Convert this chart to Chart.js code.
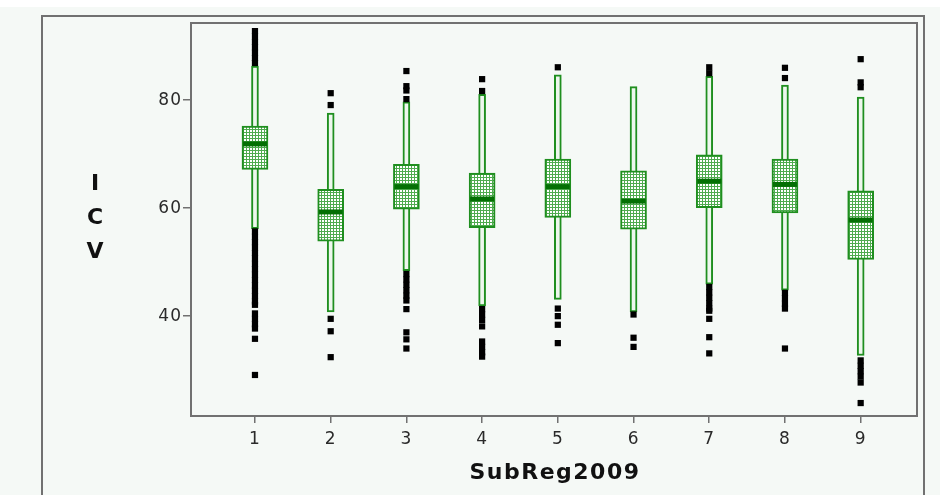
<!DOCTYPE html>
<html>
<head>
<meta charset="utf-8">
<title>ICV by SubReg2009</title>
<script src="https://cdn.jsdelivr.net/npm/chart.js@4.4.1/dist/chart.umd.min.js"></script>
<style>
    html, body { margin: 0; padding: 0; background: #ffffff; }
    #wrap { width: 940px; height: 495px; }
</style>
</head>
<body>
<div id="wrap"><canvas id="icv-chart" width="940" height="495"></canvas></div>
<script>
// groups on the x axis
const categories = [1, 2, 3, 4, 5, 6, 7, 8, 9];
const xTicks = [1, 2, 3, 4, 5, 6, 7, 8, 9];
const yTicks = [40, 60, 80];

// box summary
const whiskerLow  = [56.2, 40.8, 48.4, 41.9, 43.1, 40.8, 45.9, 44.8, 32.7];
const whiskerHigh = [86.3, 77.6, 79.7, 81.1, 84.7, 82.5, 84.4, 82.8, 80.6];
const q1          = [67.2, 53.9, 59.8, 56.4, 58.3, 56.1, 60.1, 59.1, 50.5];
const q3          = [75.2, 63.5, 68.1, 66.5, 69.1, 66.9, 69.9, 69.1, 63.2];
const medians     = [71.9, 59.3, 64.0, 61.7, 64.0, 61.3, 65.0, 64.4, 57.8];

// outliers per group (same order as categories)
const outliers = [
    [92.8, 91.8, 90.8, 89.8, 88.8, 87.8, 86.9,
     55.7, 54.7, 53.7, 52.7, 51.7, 50.7, 49.7, 48.7, 47.7, 46.7, 45.7, 44.7, 43.7, 42.7, 42.1,
     40.5, 39.5, 38.5, 37.7, 35.8, 29.1],
    [81.3, 79.1, 39.5, 37.2, 32.4],
    [85.4, 82.6, 81.8, 80.2, 47.8, 46.8, 45.8, 44.8, 43.8, 42.9, 41.3, 37.0, 35.7, 34.0],
    [83.9, 81.7, 41.3, 40.3, 39.3, 38.1, 35.3, 34.3, 33.3, 32.5],
    [86.1, 41.4, 40.0, 38.4, 35.0],
    [40.3, 36.0, 34.3],
    [86.1, 85.0, 45.4, 44.4, 43.4, 42.4, 41.4, 41.0, 39.5, 36.1, 33.1],
    [86.0, 84.1, 44.3, 43.3, 42.3, 41.4, 34.0],
    [87.6, 83.3, 82.4, 31.8, 30.8, 29.8, 28.8, 27.7, 23.9]
];

const GREEN = '#1f8f1f';
const DARK_GREEN = '#047004';
const FRAME = '#717171';

// dotted fill for the boxes
function dotPattern() {
    let c = document.createElement('canvas');
    c.width = 3;
    c.height = 3;
    let g = c.getContext('2d');
    g.fillStyle = '#4fab4f';
    g.fillRect(0, 0, 3, 3);
    g.fillStyle = '#ffffff';
    g.fillRect(1, 1, 2, 2);
    return g.createPattern(c, 'repeat');
}

let whiskerData = categories.map((c, i) => ({x: c, y: [whiskerLow[i], whiskerHigh[i]]}));
let boxData = categories.map((c, i) => ({x: c, y: [q1[i], q3[i]]}));
let medianData = categories.map((c, i) => ({x: c, y: medians[i]}));
let outlierData = [];
categories.forEach(function (c, i) {
    outliers[i].forEach(function (v) {
        outlierData.push({x: c, y: v});
    });
});

const framePlugin = {
    id: 'frame',
    beforeDraw(chart) {
        let ctx = chart.ctx;
        ctx.save();
        ctx.fillStyle = '#f5f9f6';
        ctx.fillRect(0, 0, chart.width, chart.height);
        ctx.fillStyle = '#ffffff';
        ctx.fillRect(0, 0, chart.width, 7);
        // outer panel border
        ctx.strokeStyle = FRAME;
        ctx.lineWidth = 2;
        ctx.beginPath();
        ctx.moveTo(42, chart.height + 2);
        ctx.lineTo(42, 16);
        ctx.lineTo(924, 16);
        ctx.lineTo(924, chart.height + 2);
        ctx.stroke();
        ctx.restore();
        ctx.letterSpacing = '1px';
    },
    beforeDatasetsDraw(chart) {
        let ctx = chart.ctx;
        let a = chart.chartArea;
        ctx.save();
        ctx.strokeStyle = FRAME;
        ctx.lineWidth = 2;
        ctx.strokeRect(a.left, a.top, a.right - a.left, a.bottom - a.top);
        ctx.restore();
    },
    afterDraw(chart) {
        let ctx = chart.ctx;
        let a = chart.chartArea;
        ctx.save();
        ctx.fillStyle = '#111111';
        ctx.textAlign = 'center';
        ctx.textBaseline = 'middle';
        ctx.letterSpacing = '0px';
        ctx.font = 'bold 22px "DejaVu Sans"';
        ['I', 'C', 'V'].forEach(function (ch, i) {
            ctx.fillText(ch, 95, 184 + i * 34);
        });
        ctx.letterSpacing = '1.5px';
        ctx.font = 'bold 22px "DejaVu Sans"';
        ctx.textBaseline = 'alphabetic';
        ctx.fillText('SubReg2009', (a.left + a.right) / 2 + 1, 479);
        ctx.restore();
    }
};

let ctx = document.getElementById('icv-chart').getContext('2d');
let chart = new Chart(ctx, {
    type: 'bar',
    data: {
        datasets: [{
            // whiskers
            type: 'bar',
            data: whiskerData,
            grouped: false,
            barThickness: 7,
            backgroundColor: '#eef7ee',
            borderColor: GREEN,
            borderWidth: 2,
            borderSkipped: false,
            order: 4
        }, {
            // boxes
            type: 'bar',
            data: boxData,
            grouped: false,
            barThickness: 26,
            backgroundColor: dotPattern(),
            borderColor: GREEN,
            borderWidth: 2,
            borderSkipped: false,
            order: 3
        }, {
            // medians
            type: 'scatter',
            data: medianData,
            pointStyle: 'line',
            pointRadius: 12,
            pointHoverRadius: 12,
            borderColor: DARK_GREEN,
            pointBorderColor: DARK_GREEN,
            pointBorderWidth: 5,
            order: 2
        }, {
            // outliers
            type: 'scatter',
            data: outlierData,
            pointStyle: 'rect',
            pointRadius: 4.4,
            pointHoverRadius: 4.4,
            backgroundColor: '#000000',
            pointBackgroundColor: '#000000',
            pointBorderWidth: 0,
            order: 1
        }]
    },
    plugins: [framePlugin],
    options: {
        responsive: false,
        animation: false,
        devicePixelRatio: 1,
        layout: {
            padding: {left: 0, top: 23, right: 23, bottom: 0}
        },
        plugins: {
            legend: {display: false},
            tooltip: {enabled: false}
        },
        scales: {
            x: {
                type: 'linear',
                min: 0.155,
                max: 9.744,
                offset: false,
                afterBuildTicks: function (scale) {
                    scale.ticks = xTicks.map(v => ({value: v}));
                },
                afterFit: function (scale) {
                    scale.height = 79;
                },
                grid: {
                    offset: false,
                    drawOnChartArea: false,
                    drawTicks: true,
                    tickLength: 7,
                    color: FRAME,
                    lineWidth: 1.5
                },
                border: {display: false},
                ticks: {
                    padding: 6,
                    color: '#2a2a2a',
                    font: {family: 'DejaVu Sans', size: 17},
                    maxRotation: 0,
                    callback: v => String(v)
                }
            },
            y: {
                type: 'linear',
                min: 21.5,
                max: 94.3,
                afterBuildTicks: function (scale) {
                    scale.ticks = yTicks.map(v => ({value: v}));
                },
                afterFit: function (scale) {
                    scale.width = 191;
                },
                grid: {
                    drawOnChartArea: false,
                    drawTicks: true,
                    tickLength: 8,
                    color: FRAME,
                    lineWidth: 1.5
                },
                border: {display: false},
                ticks: {
                    padding: 1,
                    color: '#2a2a2a',
                    font: {family: 'DejaVu Sans', size: 17},
                    callback: v => String(v)
                }
            }
        }
    }
});
</script>
</body>
</html>
